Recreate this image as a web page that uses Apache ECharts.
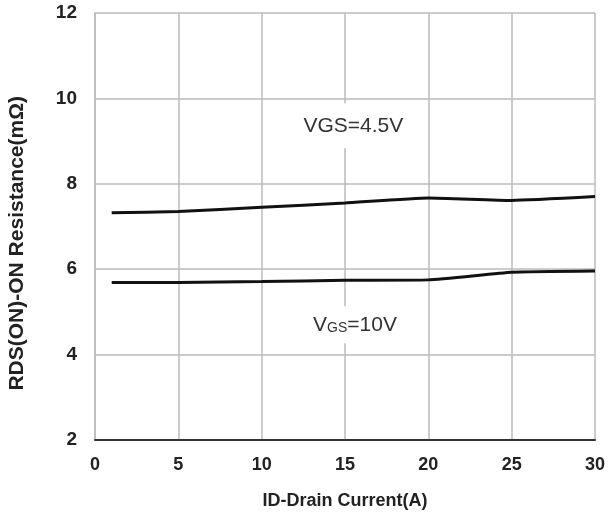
<!DOCTYPE html>
<html><head><meta charset="utf-8">
<script src="https://cdn.jsdelivr.net/npm/echarts@6/dist/echarts.min.js"></script>
<style>html,body{margin:0;padding:0;background:#fff}#c{width:608px;height:515px}</style>
</head><body><div id="c"></div>
<script>
var currentA = [1, 5, 10, 15, 20, 25, 30];
var rdsVgs45 = [7.32, 7.35, 7.45, 7.55, 7.67, 7.61, 7.70];
var rdsVgs10 = [5.69, 5.69, 5.71, 5.74, 5.75, 5.93, 5.96];
var xTicks = [0, 5, 10, 15, 20, 25, 30];
var yTicks = [2, 4, 6, 8, 10, 12];
var xTitle = 'ID-Drain Current(A)';
var yTitle = 'RDS(ON)-ON Resistance(mΩ)';

var chart = echarts.init(document.getElementById('c'));
var narrow = '"Liberation Sans Narrow", "Arial Narrow", "Liberation Sans", Arial, sans-serif';
function pairs(xs, ys){ return xs.map(function(x,i){return [x, ys[i]];}); }
chart.setOption({
  animation: false,
  backgroundColor: '#fff',
  grid: {left: 95, right: 7, top: 13, bottom: 74},
  graphic: [{
    type: 'text', left: 7, top: 96, rotation: Math.PI / 2,
    style: {text: yTitle, fontFamily: '"Liberation Sans", Arial, sans-serif', fontWeight: 'bold', fontSize: 21, fill: '#222'}
  }],
  xAxis: {
    type: 'value', min: xTicks[0], max: xTicks[xTicks.length-1], interval: 5,
    name: xTitle, nameLocation: 'middle', nameGap: 52,
    nameTextStyle: {fontFamily: narrow, fontWeight: 'bold', fontSize: 18, color: '#222'},
    axisLine: {show: true, lineStyle: {color: '#333', width: 2}},
    axisTick: {show: false},
    axisLabel: {fontFamily: narrow, fontWeight: 'bold', fontSize: 18, color: '#222', margin: 16},
    splitLine: {show: true, lineStyle: {color: '#bbb', width: 1.5}}
  },
  yAxis: {
    type: 'value', min: yTicks[0], max: yTicks[yTicks.length-1], interval: 2,
    axisLine: {show: true, lineStyle: {color: '#bbb', width: 1.5}},
    axisTick: {show: false},
    axisLabel: {fontFamily: '"Liberation Sans", Arial, sans-serif', fontWeight: 'bold', fontSize: 19, color: '#222', margin: 18},
    splitLine: {show: true, lineStyle: {color: '#bbb', width: 1.5}}
  },
  series: [
    {
      type: 'line', data: pairs(currentA, rdsVgs45), symbol: 'none', smooth: 0.15,
      lineStyle: {color: '#111', width: 3},
      markPoint: {
        symbol: 'rect', symbolSize: 0,
        data: [{coord: [15.5, 9.36], value: 'VGS=4.5V'}],
        label: {show: true, formatter: 'VGS=4.5V', position: 'inside',
          fontFamily: narrow, fontSize: 21, color: '#333',
          backgroundColor: '#fff', padding: [12, 6]}
      }
    },
    {
      type: 'line', data: pairs(currentA, rdsVgs10), symbol: 'none', smooth: 0.15,
      lineStyle: {color: '#111', width: 3},
      markPoint: {
        symbol: 'rect', symbolSize: 0,
        data: [{coord: [15.6, 4.7], value: 'VGS=10V'}],
        label: {show: true, position: 'inside',
          formatter: '{a|V}{b|GS}{a|=10V}',
          backgroundColor: '#fff', padding: [8, 6],
          rich: {
            a: {fontFamily: narrow, fontSize: 21, color: '#333'},
            b: {fontFamily: narrow, fontSize: 14, color: '#333', verticalAlign: 'bottom', padding: [6,0,0,0]}
          }}
      }
    }
  ]
});
</script></body></html>
